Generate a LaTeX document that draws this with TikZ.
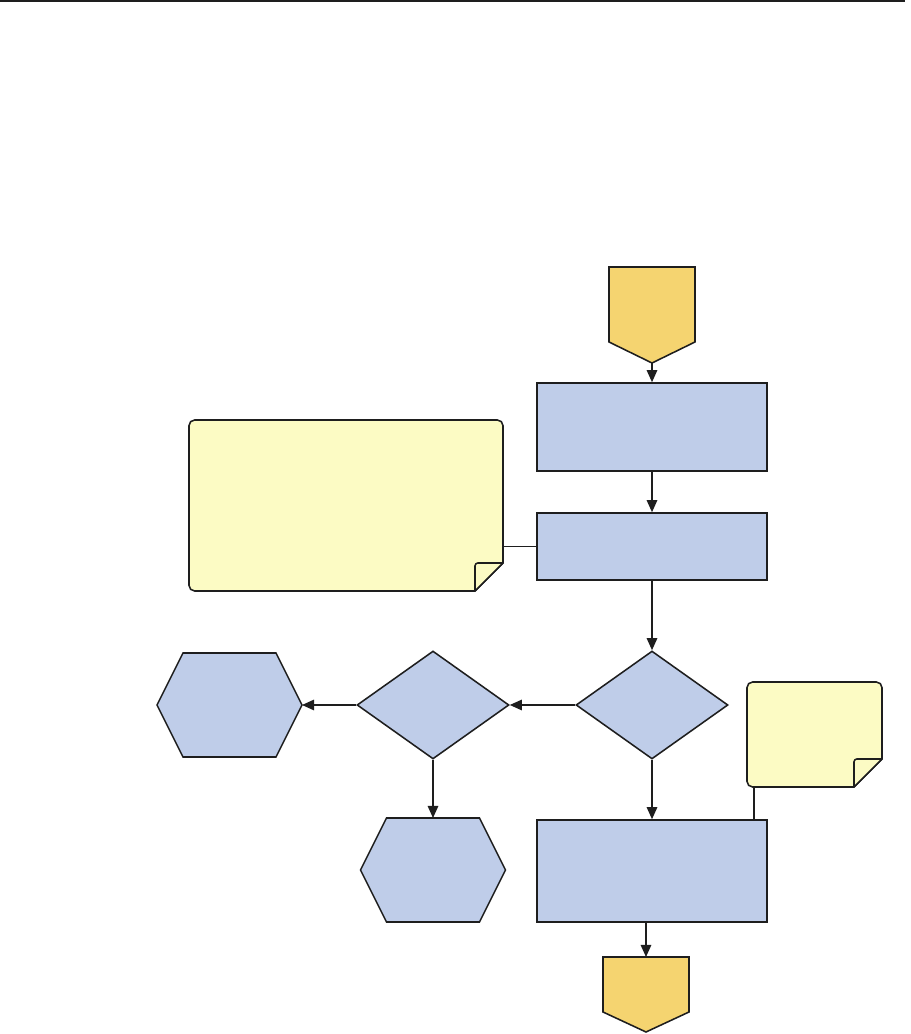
\documentclass[tikz,border=0pt]{standalone}
\usetikzlibrary{shapes.geometric, arrows.meta}
\definecolor{procblue}{RGB}{191, 205, 233}
\definecolor{connectgold}{RGB}{245, 212, 112}
\definecolor{noteyellow}{RGB}{252, 251, 196}
\definecolor{inkblack}{RGB}{30, 30, 30}

\tikzset{
  outline/.style={draw=inkblack, line width=1.1pt},
  flowline/.style={draw=inkblack, line width=1.1pt},
  flowarrow/.style={flowline, -{Triangle[length=3mm, width=2.6mm]}},
  frame/.style={inner sep=0pt, outer sep=0pt},
  process/.style={outline, fill=procblue, inner sep=0pt, minimum width=5.75cm},
  decision/.style={outline, fill=procblue, diamond, inner sep=0pt,
                   minimum width=3.8cm, minimum height=2.7cm},
}

\begin{document}
\begin{tikzpicture}
    \useasboundingbox (0,0) rectangle (22.775,25.85);
    \draw[inkblack, line width=0.9pt] (0,25.825) -- (22.625,25.825);

    %% main column
    \node[frame, minimum width=2.15cm, minimum height=2.4cm] (startp) at (16.3,17.975) {};
    \draw[outline, fill=connectgold] (startp.north west) -- (startp.north east)
      -- ([yshift=0.525cm]startp.south east) -- (startp.south)
      -- ([yshift=0.525cm]startp.south west) -- cycle;
    \node[process, minimum height=2.2cm] (box1) at (16.3,15.175) {};
    \node[process, minimum height=1.675cm] (box2) at (16.3,12.1875) {};
    \node[decision] (dec1) at (16.3,8.225) {};
    \node[process, minimum height=2.55cm] (box3) at (16.3,4.075) {};
    \node[frame, minimum width=2.15cm, minimum height=1.875cm] (endp) at (16.15,0.9875) {};
    \draw[outline, fill=connectgold] (endp.north west) -- (endp.north east)
      -- ([yshift=0.5cm]endp.south east) -- (endp.south)
      -- ([yshift=0.5cm]endp.south west) -- cycle;

    %% left branch
    \node[decision] (dec2) at (10.825,8.225) {};
    \node[frame, minimum width=3.625cm, minimum height=2.6cm] (hex1) at (5.7375,8.225) {};
    \node[frame, minimum width=3.625cm, minimum height=2.6cm] (hex2) at (10.825,4.1) {};
    \foreach \h in {hex1, hex2}
      \draw[outline, fill=procblue] (\h.west) -- ([xshift=0.65cm]\h.north west)
        -- ([xshift=-0.65cm]\h.north east) -- (\h.east)
        -- ([xshift=-0.65cm]\h.south east) -- ([xshift=0.65cm]\h.south west) -- cycle;

    %% annotations
    \node[frame, minimum width=7.85cm, minimum height=4.275cm] (note1) at (8.65,13.2125) {};
    \node[frame, minimum width=3.375cm, minimum height=2.625cm] (note2) at (20.3625,7.4875) {};
    \foreach \n in {note1, note2} {
      \draw[outline, fill=noteyellow] ([xshift=-0.7cm]\n.south east)
        [rounded corners=4pt] -- (\n.south west) -- (\n.north west) -- (\n.north east)
        [sharp corners] -- ([yshift=0.7cm]\n.south east) -- cycle;
      \draw[outline, fill=noteyellow, line join=round] ([xshift=-0.7cm]\n.south east)
        [rounded corners=2pt] -- ([shift={(-0.7cm,0.7cm)}]\n.south east)
        [sharp corners] -- ([yshift=0.7cm]\n.south east) -- cycle;
    }

    %% connectors
    \draw[flowarrow] (startp.south) -- (box1.north);
    \draw[flowarrow] (box1.south) -- (box2.north);
    \draw[flowarrow] (box2.south) -- (dec1.north);
    \draw[flowarrow] (dec1.west) -- (dec2.east);
    \draw[flowarrow] (dec2.west) -- (hex1.east);
    \draw[flowarrow] (dec2.south) -- (hex2.north);
    \draw[flowarrow] (dec1.south) -- (box3.north);
    \draw[flowarrow] (box3.south -| endp.north) -- (endp.north);
    \draw[flowline] (box2.west) -- (box2.west -| note1.east);
    \draw[flowline] ([xshift=0.175cm]note2.south west) -- ([xshift=0.175cm]note2.south west |- box3.north);
  \end{tikzpicture}
\end{document}
